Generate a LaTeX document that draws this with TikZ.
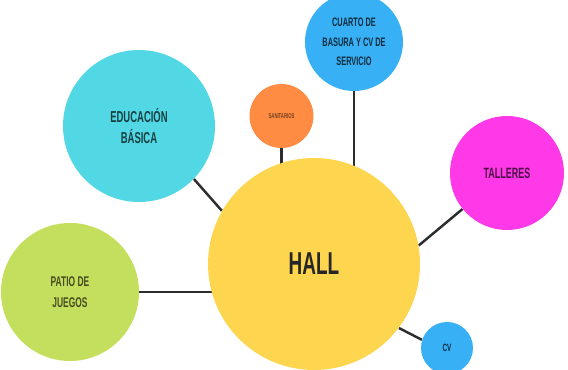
\documentclass[tikz,border=0pt]{standalone}
\usepackage{fontspec}
\setmainfont{Liberation Sans}[FakeStretch=0.6]
\usepackage{tikz}
\usetikzlibrary{backgrounds}
\usetikzlibrary{calc}

\definecolor{hallyellow}{RGB}{253,213,79}
\definecolor{educyan}{RGB}{82,216,228}
\definecolor{sanorange}{RGB}{255,140,66}
\definecolor{servblue}{RGB}{56,176,245}
\definecolor{tallpink}{RGB}{255,56,232}
\definecolor{patiogreen}{RGB}{196,222,94}
\definecolor{linegray}{RGB}{45,45,45}

\begin{document}
\begin{tikzpicture}
      \tikzstyle{edge}  = [draw=linegray, line width=1.4pt]
      \tikzstyle{zone}=[
        circle,
        inner sep=0pt,
        anchor=center,
        align=center,
        font=\bfseries,
      ]

      \useasboundingbox (0,0) rectangle (11.36,-7.4);

      \node[zone, fill=hallyellow, minimum size=4.24cm, font=\bfseries\fontsize{18}{20}\selectfont, text=black!85] (hall) at (6.28,-5.28) {HALL};
      \node[zone, fill=educyan, minimum size=3.04cm, font=\bfseries\fontsize{9}{12}\selectfont, text=black!70!educyan] (edu) at (2.78,-2.52) {EDUCACIÓN\\BÁSICA};
      \node[zone, fill=sanorange, minimum size=1.28cm, font=\bfseries\fontsize{4}{4.5}\selectfont, text=black!55!sanorange] (sanit) at (5.63,-2.32) {SANITARIOS};
      \node[zone, fill=servblue, minimum size=1.96cm, font=\bfseries\fontsize{7}{11}\selectfont, text=black!75!servblue] (basura) at (7.08,-0.84) {CUARTO DE\\BASURA Y CV DE\\SERVICIO};
      \node[zone, fill=tallpink, minimum size=2.28cm, font=\bfseries\fontsize{8.5}{10}\selectfont, text=black!70!tallpink] (tall) at (10.14,-3.46) {TALLERES};
      \node[zone, fill=patiogreen, minimum size=2.76cm, font=\bfseries\fontsize{8}{12}\selectfont, text=black!65!patiogreen] (patio) at (1.40,-5.84) {PATIO DE\\JUEGOS};
      \node[zone, fill=servblue, minimum size=1.04cm, font=\bfseries\fontsize{6}{7}\selectfont, text=black!75!servblue] (cv) at (8.94,-6.96) {CV};

      % connectors behind the circles
      \begin{scope}[on background layer]
      \draw[edge] (edu.-44)--(hall.150);
      \draw[edge] (sanit.south)--(sanit.south |- hall.center);
      \draw[edge] (basura.south)--(basura.south |- hall.center);
      \draw[edge] (tall.-141)--(hall.10);
      \draw[edge] (patio.east)--(patio.east -| hall.center);
      \draw[edge] (cv.162)--(hall.-37);
      \end{scope}
    \end{tikzpicture}
\end{document}
